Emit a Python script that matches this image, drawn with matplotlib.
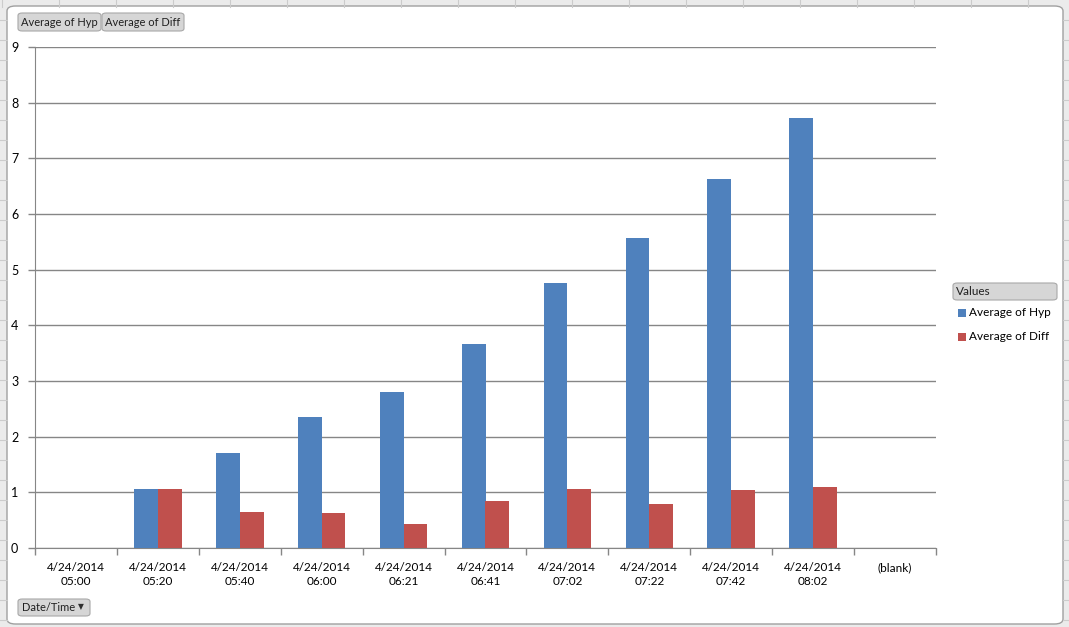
import numpy as np
import matplotlib
matplotlib.use("Agg")
import matplotlib.pyplot as plt
from matplotlib.patches import FancyBboxPatch, Rectangle
from matplotlib.lines import Line2D

categories = ["4/24/2014\n05:00", "4/24/2014\n05:20", "4/24/2014\n05:40", "4/24/2014\n06:00",
              "4/24/2014\n06:21", "4/24/2014\n06:41", "4/24/2014\n07:02", "4/24/2014\n07:22",
              "4/24/2014\n07:42", "4/24/2014\n08:02", "(blank)"]
avg_hyp = [np.nan, 1.06, 1.71, 2.35, 2.80, 3.66, 4.76, 5.57, 6.62, 7.72, np.nan]
avg_diff = [np.nan, 1.06, 0.65, 0.63, 0.43, 0.84, 1.06, 0.79, 1.04, 1.10, np.nan]
series_names = ["Average of Hyp", "Average of Diff"]
y_ticks = list(range(0, 10))

W, H = 1069, 627
plt.rcParams['font.family'] = ['Lato', 'DejaVu Sans']
fig = plt.figure(figsize=(W / 100, H / 100), dpi=100)
fig.patch.set_facecolor('#ebebeb')

def fx(px):
    return px / W

def fy(py):
    return 1 - py / H

# spreadsheet cell lines in the border strips
for xp in np.arange(2, W, 57):
    fig.add_artist(Line2D([fx(xp), fx(xp)], [fy(0), fy(7)], color='#cccccc', lw=0.8))
for yp in np.arange(20, H, 20):
    fig.add_artist(Line2D([fx(0), fx(7)], [fy(yp), fy(yp)], color='#cccccc', lw=0.8))
    fig.add_artist(Line2D([fx(1063), fx(W)], [fy(yp), fy(yp)], color='#cccccc', lw=0.8))

# chart area
fig.add_artist(FancyBboxPatch((fx(7), fy(624)), fx(1063) - fx(7), fy(6) - fy(624),
                              boxstyle="round,pad=0,rounding_size=0.008",
                              facecolor='white', edgecolor='#a0a0a0', lw=1.0,
                              transform=fig.transFigure, zorder=0))

ax = fig.add_axes([fx(35), fy(548), fx(936) - fx(35), fy(47) - fy(548)])
x = np.arange(len(categories))
bw = 0.29
ax.bar(x - bw / 2, avg_hyp, bw, color='#4F81BD', label=series_names[0], zorder=3)
ax.bar(x + bw / 2, avg_diff, bw, color='#C0504D', label=series_names[1], zorder=3)

ax.set_xlim(-0.5, len(categories) - 0.5)
ax.set_ylim(0, 9)
ax.set_yticks(y_ticks)
ax.set_yticklabels([str(v) for v in y_ticks], fontsize=9)
ax.yaxis.grid(True, color='#868686', lw=1.0, zorder=0)
ax.set_axisbelow(True)
ax.set_xticks(np.arange(-0.5, len(categories) - 0.4, 1.0))
ax.set_xticklabels([])
ax.set_xticks(x, minor=True)
ax.set_xticklabels(categories, minor=True, fontsize=8.5, linespacing=1.35)
ax.tick_params(axis='x', which='minor', length=0, pad=10)
ax.tick_params(axis='x', which='major', length=5, color='#868686', width=1)
ax.tick_params(axis='y', length=5, color='#868686', width=1, pad=7)
for s in ['top', 'right']:
    ax.spines[s].set_visible(False)
ax.spines['left'].set_color('#868686')
ax.spines['bottom'].set_color('#868686')

def button(x0, y0, x1, y1, text, fs=8, ha='center', tx=None):
    fig.add_artist(FancyBboxPatch((fx(x0), fy(y1)), fx(x1) - fx(x0), fy(y0) - fy(y1),
                                  boxstyle="round,pad=0,rounding_size=0.004",
                                  facecolor='#d6d6d6', edgecolor='#a8a8a8', lw=0.8,
                                  transform=fig.transFigure, zorder=5))
    if tx is None:
        tx = (x0 + x1) / 2
    fig.text(fx(tx), fy((y0 + y1) / 2), text, ha=ha, va='center', fontsize=fs,
             color='#202020', zorder=6)

button(18, 13, 101, 31, series_names[0])
button(102, 13, 184, 31, series_names[1])
button(953, 283, 1057, 300, "Values", fs=8.5, ha='left', tx=956)
button(18, 599, 90, 616, "Date/Time", ha='left', tx=22)
fig.text(fx(81), fy(607), "\u25BC", ha='center', va='center', fontsize=5.5, color='#303030',
         family=['DejaVu Sans'], zorder=6)

# legend
for i, (name, col) in enumerate(zip(series_names, ['#4F81BD', '#C0504D'])):
    yc = 313 + 24 * i
    fig.add_artist(Rectangle((fx(958), fy(yc + 4)), fx(966) - fx(958), fy(yc - 4) - fy(yc + 4),
                             facecolor=col, edgecolor='none', transform=fig.transFigure))
    fig.text(fx(969), fy(yc), name, ha='left', va='center', fontsize=8.5, color='#000000')

fig.savefig("out.png", dpi=100, facecolor=fig.get_facecolor())
